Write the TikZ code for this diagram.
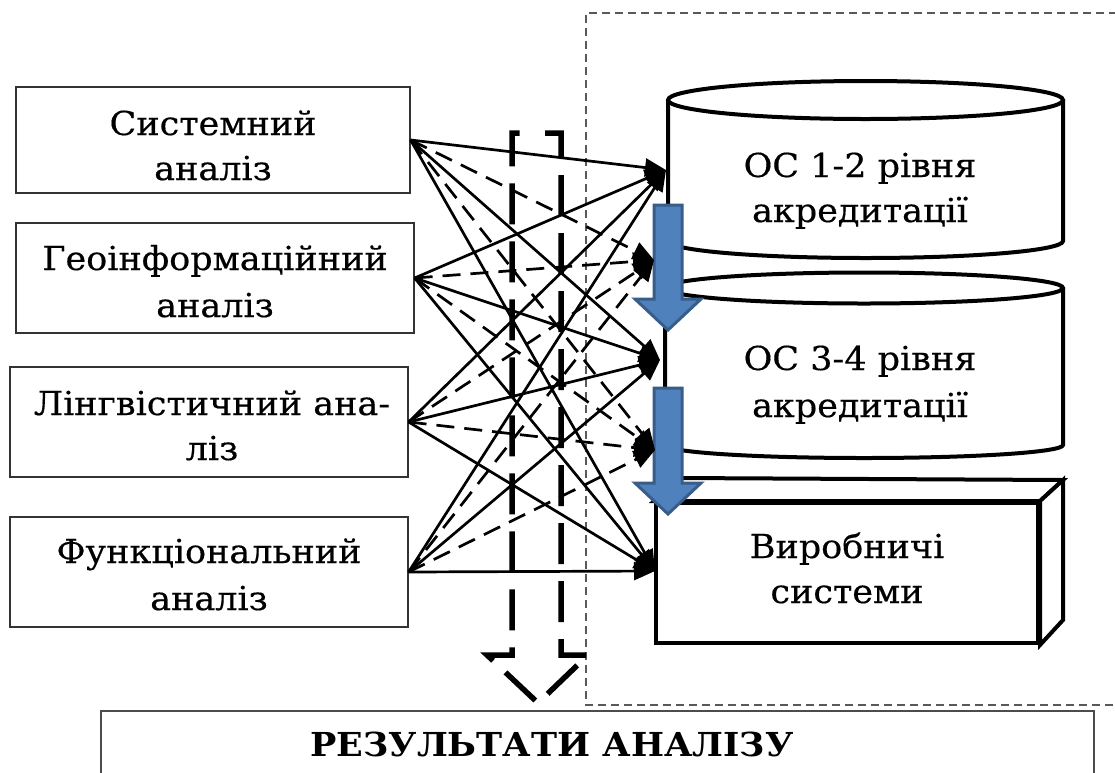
\documentclass[tikz,border=0pt]{standalone}
\usepackage{fontspec}
\setmainfont{DejaVu Serif}
\newfontfamily\bodyfont[FakeStretch=1.06,FakeBold=0.4]{DejaVu Serif}
\newfontfamily\titlefont[FakeStretch=1.06]{DejaVu Serif}
\usetikzlibrary{arrows.meta}
\definecolor{arrowblue}{HTML}{4F81BD}
\definecolor{arrowedge}{HTML}{385D8A}
\begin{document}
\begin{tikzpicture}[x=1pt,y=-1pt,
  lbox/.style={draw=black!80, line width=1.2pt, fill=white, inner sep=0pt},
  ltxt/.style={font=\bodyfont\fontsize{33}{40}\selectfont, anchor=base, inner sep=0pt},
  ttl/.style={font=\titlefont\bfseries\fontsize{33}{40}\selectfont, anchor=base, inner sep=0pt},
  solidlink/.style={line width=2.7pt, -{Triangle[length=21pt,width=18pt]}},
  dashlink/.style={solidlink, dash pattern=on 18pt off 10pt},
  bluearrow/.style={fill=arrowblue, draw=arrowedge, line width=3pt, line join=miter},
  heavy/.style={draw=black, line width=4pt, fill=white, line join=miter},
  regionline/.style={draw=black!65, line width=1.3pt, dash pattern=on 8pt off 5pt},
  bigdash/.style={draw=black, line width=5.5pt, dash pattern=on 41pt off 17pt, dash phase=49.5pt, line join=miter}
]
\clip (0,0) rectangle (1115,772);
\fill[white] (0,0) rectangle (1115,772);

% dashed region
\draw[regionline] (1130,13) -- (586,13) -- (586,705) -- (1130,705);

% result box
\node[draw=black!70, line width=1.5pt, minimum width=993pt, minimum height=100pt, anchor=north west, inner sep=0pt] (res) at (100,710) {};
\node[ttl] (restxt) at (552,756) {РЕЗУЛЬТАТИ АНАЛІЗУ};

% left boxes
\node[lbox, minimum width=394pt, minimum height=106pt] (b1) at (213,140) {};
\node[lbox, minimum width=398pt, minimum height=110pt] (b2) at (215,278) {};
\node[lbox, minimum width=398pt, minimum height=110pt] (b3) at (209,422) {};
\node[lbox, minimum width=398pt, minimum height=110pt] (b4) at (209,572) {};
\node[ltxt] (b1a) at (213,135) {Системний};
\node[ltxt] (b1b) at (213,180) {аналіз};
\node[ltxt] (b2a) at (215,270) {Геоінформаційний};
\node[ltxt] (b2b) at (215,317) {аналіз};
\node[ltxt] (b3a) at (212,415) {Лінгвістичний ана-};
\node[ltxt] (b3b) at (212,460) {ліз};
\node[ltxt] (b4a) at (209,563) {Функціональний};
\node[ltxt] (b4b) at (209,610) {аналіз};

% cylinder 1
\fill[white] (668,100) -- (668,241) arc[start angle=180,end angle=360,x radius=197.5pt,y radius=17pt] -- (1063,100) -- cycle;
\draw[line width=4pt] (668,100) -- (668,241) arc[start angle=180,end angle=360,x radius=197.5pt,y radius=17pt] -- (1063,100);
\draw[heavy] (865.5,100) ellipse [x radius=197.5pt, y radius=19pt];
\node[inner sep=0pt, minimum width=395pt, minimum height=120pt] (c1) at (865.5,175) {};
\node[ltxt] (c1a) at (860,177) {ОС 1-2 рівня};
\node[ltxt] (c1b) at (860,222) {акредитації};

% cylinder 2
\fill[white] (665,288) -- (665,445) arc[start angle=180,end angle=360,x radius=199pt,y radius=13pt] -- (1063,288) -- cycle;
\draw[line width=4pt] (665,288) -- (665,445) arc[start angle=180,end angle=360,x radius=199pt,y radius=13pt] -- (1063,288);
\draw[heavy] (864,288) ellipse [x radius=199pt, y radius=15.5pt];
\node[inner sep=0pt, minimum width=398pt, minimum height=140pt] (c2) at (864,370) {};
\node[ltxt] (c2a) at (860,370) {ОС 3-4 рівня};
\node[ltxt] (c2b) at (860,417) {акредитації};

% 3D box
\node[heavy, minimum width=382pt, minimum height=140pt, inner sep=0pt] (prod) at (847,573) {};
\draw[heavy] (prod.north west) -- ++(25,-23) -- (1063,480) -- (prod.north east) -- cycle;
\draw[heavy] (prod.north east) -- (1063,480) -- (1063,620) -- (prod.south east) -- cycle;
\node[ltxt] (proda) at (847,558) {Виробничі};
\node[ltxt] (prodb) at (847,603) {системи};

% big dashed arrow
\draw[bigdash] (536.5,133) -- (561,133) -- (561,655) -- (588,655) -- (538,703) -- (487,655) -- (512,655) -- (512,133) -- cycle;

% blue arrows
\draw[bluearrow] (654,205) -- (682,205) -- (682,299) -- (701,299) -- (668,330) -- (635,299) -- (654,299) -- cycle;
\draw[bluearrow] (654,388) -- (682,388) -- (682,483) -- (701,483) -- (668,514) -- (635,483) -- (654,483) -- cycle;

% targets
\coordinate (t1) at (666,170);
\coordinate (t2) at (654,260);
\coordinate (t3) at (660,360);
\coordinate (t4) at (655,450);
\coordinate (t5) at (655,571);

\foreach \s in {b1,b2,b3,b4}{
  \draw[solidlink] (\s.east) -- (t1);
  \draw[dashlink] (\s.east) -- (t2);
  \draw[solidlink] (\s.east) -- (t3);
  \draw[dashlink] (\s.east) -- (t4);
  \draw[solidlink] (\s.east) -- (t5);
}
\end{tikzpicture}
\end{document}
